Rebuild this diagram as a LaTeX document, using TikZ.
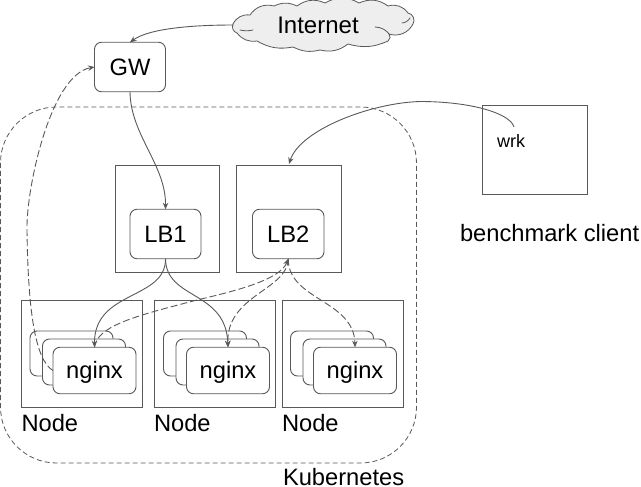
\documentclass[tikz,border=0pt]{standalone}
\usepackage{fontspec}
\setmainfont{Liberation Sans}
\usetikzlibrary{arrows.meta}
\definecolor{ln}{HTML}{595959}
\definecolor{cloudfill}{HTML}{EEEEEE}
\tikzset{
  x=1pt,y=-1pt,
  frame/.style={draw=ln,line width=0.9pt,inner sep=0pt,outer sep=0pt,fill=white},
  sq/.style={frame},
  rbox/.style={frame,rounded corners=7pt,font=\fontsize{23.7}{24}\selectfont},
  lbl/.style={anchor=base west,inner sep=0pt,outer sep=0pt,font=\fontsize{23.7}{24}\selectfont},
  conn/.style={draw=ln,line width=0.9pt,-{Stealth[length=6.5pt,width=5.5pt]}},
  dconn/.style={conn,dash pattern=on 7pt off 3pt},
  kube/.style={draw=ln,line width=0.8pt,dash pattern=on 5pt off 3pt,rounded corners=56pt},
  cloudline/.style={draw=ln,line width=0.8pt,line cap=round},
}
\newcommand{\nginxstack}[2]{%
  \node[rbox,minimum width=83pt,minimum height=45pt] (#2a) at (#1+71.5,353.5) {};
  \node[rbox,minimum width=83pt,minimum height=46pt] (#2b) at (#1+84,362) {};
  \node[rbox,minimum width=83pt,minimum height=46.5pt,text height=18pt,text depth=3pt] (#2) at (#1+94.5,370.5) {nginx};
}
\begin{document}
\begin{tikzpicture}
\useasboundingbox (0,0) rectangle (641,487);
% Kubernetes region
\draw[kube] (0.5,107) rectangle (416.5,463);
% outer boxes
\node[sq,minimum width=104.5pt,minimum height=107pt] (lb1box) at (167.25,218.5) {};
\node[sq,minimum width=105pt,minimum height=107pt] (lb2box) at (289,218.5) {};
\node[sq,minimum width=121pt,minimum height=107pt] (n1) at (82,354) {};
\node[sq,minimum width=121pt,minimum height=107pt] (n2) at (215,354) {};
\node[sq,minimum width=121pt,minimum height=107pt] (n3) at (343,354) {};
\node[sq,minimum width=105pt,minimum height=89pt] (client) at (534.5,150) {};
% inner boxes
\node[rbox,minimum width=71pt,minimum height=49.5pt] (gw) at (130,67) {GW};
\node[rbox,minimum width=71pt,minimum height=49.5pt] (lb1) at (165.5,234) {LB1};
\node[rbox,minimum width=71.5pt,minimum height=49.5pt] (lb2) at (288.25,234) {LB2};
\nginxstack{0}{ngx1}
\nginxstack{133.5}{ngx2}
\nginxstack{260.5}{ngx3}
% cloud
\draw[cloudline,fill=cloudfill]
  (233,24) to[bend left=35] (250,15) to[bend left=35] (274,6)
  to[bend left=25] (297,6) to[bend left=30] (325,3) to[bend left=30] (359,3)
  to[bend left=30] (388,6) to[bend left=35] (408,13) to[bend left=60] (413,24)
  to[bend left=40] (389,34) to[bend left=50] (388,41) to[bend left=20] (348,44)
  to[bend left=25] (320,50) to[bend left=20] (293,47) to[bend left=20] (257,41)
  to[bend left=30] (237,33) to[bend left=50] (233,24) -- cycle;
\draw[cloudline] (240,30) to[bend right=12] (253,30);
\draw[cloudline] (375,27) to[bend left=25] (390,35);
\draw[cloudline] (402,23) to[bend right=25] (410,18);
\node[inner sep=0pt,font=\fontsize{24}{24}\selectfont] (internet) at (318,25) {Internet};
\coordinate (cloudw) at (233.5,25);
% labels
\node[lbl] (lab1) at (21.5,431) {Node};
\node[lbl] (lab2) at (154,431) {Node};
\node[lbl] (lab3) at (282,431) {Node};
\node[lbl] (labk) at (283,485) {Kubernetes};
\node[lbl] (labb) at (460,241) {benchmark client};
\node[anchor=base west,inner sep=0pt,font=\fontsize{18}{18}\selectfont] (wrk) at (497,147) {wrk};
\coordinate (wrkt) at (514,127);
\coordinate (lb2top) at (289,164);
% connectors
\draw[conn] (cloudw) .. controls (195,25) and (150,28) .. (gw.north);
\draw[conn] (gw.south) .. controls (130.5,135) and (166,165) .. (lb1.north);
\draw[conn] (wrkt) .. controls (510,113) and (470,101.5) .. (420,101.5) .. controls (370,103) and (300,130) .. (lb2top);
\draw[conn] (lb1.south) .. controls (166,300) and (94,290) .. (ngx1.north);
\draw[conn] (lb1.south) .. controls (166,300) and (226,290) .. (ngx2.north);
\draw[dconn] (ngx1.north) .. controls (97,325) and (140,315) .. (197,300) .. controls (235,291) and (280,280) .. (lb2.south);
\draw[dconn] (lb2.south) .. controls (288,290) and (226,295) .. (ngx2.north);
\draw[dconn] (lb2.south) .. controls (288,300) and (354,300) .. (ngx3.north);
\draw[dconn] (ngx1.west) .. controls (35,360) and (28,310) .. (27,230) .. controls (26,190) and (50,75) .. (gw.west);
\end{tikzpicture}
\end{document}
